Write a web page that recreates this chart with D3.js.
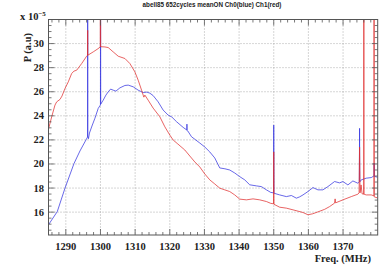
<!DOCTYPE html>
<html>
<head>
<meta charset="utf-8">
<script src="https://cdn.jsdelivr.net/npm/d3@7"></script>
<style>
  body { margin: 0; background: #fff; }
  svg { display: block; }
</style>
</head>
<body>
<div id="chart"></div>
<script>
// Ch0 (blue) spectrum, [freq MHz, power x1e-5]
var ch0 = [
  [1285.0, 14.95], [1287.54, 16.05], [1289.76, 17.99], [1292.35, 20.03], [1294.08, 21.08],
  [1295.95, 22.07], [1296.27, 22.24], [1296.3, 40], [1296.35, 22.32], [1296.53, 22.1],
  [1296.82, 22.57], [1297.54, 23.15], [1298.4, 23.8], [1299.35, 24.62], [1299.99, 24.9],
  [1300.02, 40], [1300.07, 24.97], [1300.79, 25.3], [1301.57, 25.72], [1302.23, 25.99],
  [1302.93, 26.22], [1303.67, 26.13], [1304.45, 26.05], [1305.6, 26.32], [1307.05, 26.52],
  [1308.0, 26.55], [1309.44, 26.41], [1310.88, 26.13], [1312.32, 25.93], [1313.39, 25.97],
  [1314.25, 25.88], [1315.2, 25.68], [1316.64, 25.16], [1318.08, 24.48], [1319.52, 24.06],
  [1320.59, 23.9], [1321.95, 23.51], [1323.85, 23.04], [1324.91, 22.82], [1324.95, 23.31],
  [1325.0, 22.78], [1325.2, 22.74], [1326.27, 22.26], [1327.51, 21.99], [1328.66, 21.74],
  [1330.1, 21.41], [1331.54, 21.0], [1332.98, 20.5], [1334.42, 19.67], [1335.9, 19.6],
  [1337.3, 19.5], [1338.74, 19.25], [1340.18, 18.95], [1341.63, 18.68], [1343.07, 18.27],
  [1345.0, 18.18], [1346.44, 18.12], [1347.88, 17.85], [1349.12, 17.64], [1349.93, 17.6],
  [1350.0, 23.23], [1350.07, 17.57], [1351.71, 17.43], [1353.64, 17.29], [1355.09, 17.38],
  [1356.53, 17.16], [1357.49, 17.27], [1358.44, 17.43], [1359.87, 17.71], [1361.31, 18.04],
  [1362.75, 17.85], [1364.19, 17.85], [1365.63, 18.12], [1367.56, 18.54], [1369.0, 18.43],
  [1369.96, 18.54], [1371.4, 18.26], [1372.84, 18.59], [1374.28, 18.4], [1374.7, 18.51],
  [1374.77, 22.96], [1374.83, 18.51], [1375.26, 18.68], [1376.7, 18.82], [1378.14, 18.87],
  [1378.95, 19.01], [1378.98, 20.08], [1379.04, 18.97], [1379.96, 18.9]
];

// Ch1 (red) spectrum
var ch1 = [
  [1285.0, 22.9], [1285.92, 23.92], [1286.87, 24.89], [1287.36, 25.16], [1288.31, 25.36],
  [1288.89, 25.64], [1289.76, 26.27], [1290.71, 26.82], [1291.69, 27.52], [1292.35, 27.71],
  [1293.13, 27.79], [1294.57, 28.34], [1296.0, 28.95], [1296.27, 29.03], [1296.3, 31.1],
  [1296.33, 29.03], [1297.91, 29.31], [1299.27, 29.57], [1299.93, 29.72], [1300.0, 40],
  [1300.05, 29.74], [1301.28, 29.72], [1302.23, 29.67], [1303.67, 29.31], [1305.12, 28.95],
  [1307.05, 28.76], [1308.49, 28.34], [1309.93, 27.65], [1310.88, 26.96], [1311.86, 26.13],
  [1312.32, 25.72], [1312.52, 25.55], [1312.81, 25.72], [1313.76, 25.3], [1315.2, 24.64],
  [1317.13, 23.92], [1318.57, 23.09], [1320.01, 22.4], [1320.97, 21.99], [1322.32, 21.66],
  [1324.34, 21.16], [1325.78, 20.66], [1327.22, 20.17], [1328.66, 19.75], [1330.1, 19.17],
  [1331.54, 18.68], [1332.98, 18.34], [1334.42, 17.99], [1335.86, 17.85], [1337.3, 17.71],
  [1338.74, 17.43], [1340.18, 17.08], [1342.12, 17.02], [1344.02, 17.1], [1345.95, 17.02],
  [1347.88, 16.88], [1349.12, 16.73], [1349.93, 16.69], [1350.0, 21.0], [1350.07, 16.65],
  [1351.71, 16.41], [1353.64, 16.33], [1355.55, 16.19], [1358.44, 15.97], [1359.87, 15.78],
  [1361.22, 15.86], [1362.75, 16.02], [1364.68, 16.23], [1366.12, 16.46], [1367.56, 16.75],
  [1367.71, 17.1], [1367.85, 16.77], [1369.96, 17.02], [1372.38, 17.29], [1374.28, 17.49],
  [1374.63, 17.6], [1374.77, 21.4], [1374.91, 17.6], [1375.2, 18.26], [1375.49, 17.52],
  [1375.98, 17.5], [1376.0, 40], [1376.02, 17.48], [1376.2, 17.47], [1376.69, 17.43],
  [1378.14, 17.43], [1378.92, 17.35], [1378.95, 40], [1379.0, 17.27], [1379.96, 17.18]
];

var xTicks = [1290, 1300, 1310, 1320, 1330, 1340, 1350, 1360, 1370];
var yTicks = [16, 18, 20, 22, 24, 26, 28, 30];

var title = "abell85 652cycles meanON Ch0(blue) Ch1(red)";

var w = 390, h = 268;
var pLeft = 48.5, pRight = 377.7, pTop = 19.5, pBottom = 235;

var x = d3.scaleLinear().domain([1285, 1380]).range([pLeft, pRight]);
var y = d3.scaleLinear().domain([14.1, 32]).range([pBottom, pTop]);

var svg = d3.select("#chart")
    .append("svg")
    .attr("width", w)
    .attr("height", h);

svg.append("rect")
    .attr("width", w)
    .attr("height", h)
    .attr("fill", "#fff");

svg.append("clipPath")
    .attr("id", "plotclip")
    .append("rect")
    .attr("x", pLeft)
    .attr("y", pTop)
    .attr("width", pRight - pLeft)
    .attr("height", pBottom - pTop);

// grid
svg.append("g")
    .selectAll("line")
    .data(xTicks)
    .enter()
    .append("line")
    .attr("x1", d => x(d)).attr("x2", d => x(d))
    .attr("y1", pTop).attr("y2", pBottom)
    .attr("stroke", "#999")
    .attr("stroke-width", 0.8)
    .attr("stroke-dasharray", "1,2");

svg.append("g")
    .selectAll("line")
    .data(yTicks)
    .enter()
    .append("line")
    .attr("y1", d => y(d)).attr("y2", d => y(d))
    .attr("x1", pLeft).attr("x2", pRight)
    .attr("stroke", "#999")
    .attr("stroke-width", 0.8)
    .attr("stroke-dasharray", "1,2");

// curves
var line = d3.line()
    .x(d => x(d[0]))
    .y(d => y(d[1]));

var plot = svg.append("g").attr("clip-path", "url(#plotclip)");

plot.append("path")
    .datum(ch0)
    .attr("fill", "none")
    .attr("stroke", "#3535e0")
    .attr("stroke-width", 0.75)
    .attr("d", line);

plot.append("path")
    .datum(ch1)
    .attr("fill", "none")
    .attr("stroke", "#e03030")
    .attr("stroke-width", 0.75)
    .attr("d", line);

// inward ticks on all four sides
var xMinor = d3.range(1286, 1380, 2).filter(d => d % 10 != 0);
var yMinor = d3.range(14.5, 32, 0.5).filter(d => d % 2 != 0);
var ticks = svg.append("g").attr("stroke", "#555").attr("stroke-width", 0.8);

xTicks.concat(xMinor).forEach(function (d) {
    var len = xTicks.indexOf(d) >= 0 ? 6 : 3;
    ticks.append("line").attr("x1", x(d)).attr("x2", x(d)).attr("y1", pBottom).attr("y2", pBottom - len);
    ticks.append("line").attr("x1", x(d)).attr("x2", x(d)).attr("y1", pTop).attr("y2", pTop + len);
});
yTicks.concat(yMinor).forEach(function (d) {
    var len = yTicks.indexOf(d) >= 0 ? 6 : 3;
    ticks.append("line").attr("y1", y(d)).attr("y2", y(d)).attr("x1", pLeft).attr("x2", pLeft + len);
    ticks.append("line").attr("y1", y(d)).attr("y2", y(d)).attr("x1", pRight).attr("x2", pRight - len);
});

svg.append("rect")
    .attr("x", pLeft)
    .attr("y", pTop)
    .attr("width", pRight - pLeft)
    .attr("height", pBottom - pTop)
    .attr("fill", "none")
    .attr("stroke", "#555")
    .attr("stroke-width", 1);

// tick labels
var labelFont = "'Liberation Serif', 'DejaVu Serif', serif";

svg.append("g")
    .selectAll("text")
    .data(xTicks)
    .enter()
    .append("text")
    .attr("x", d => x(d))
    .attr("y", 250)
    .attr("text-anchor", "middle")
    .attr("font-family", labelFont)
    .attr("font-weight", "bold")
    .attr("font-size", 10.5)
    .attr("fill", "#222")
    .text(d => d);

svg.append("g")
    .selectAll("text")
    .data(yTicks)
    .enter()
    .append("text")
    .attr("x", 44)
    .attr("y", d => y(d) + 3.5)
    .attr("text-anchor", "end")
    .attr("font-family", labelFont)
    .attr("font-weight", "bold")
    .attr("font-size", 10.5)
    .attr("fill", "#222")
    .text(d => d);

// axis titles
svg.append("text")
    .attr("x", 371)
    .attr("y", 262)
    .attr("text-anchor", "end")
    .attr("font-family", labelFont)
    .attr("font-weight", "bold")
    .attr("font-size", 10.5)
    .attr("fill", "#222")
    .text("Freq. (MHz)");

svg.append("text")
    .attr("transform", "translate(30.5,33) rotate(-90)")
    .attr("text-anchor", "end")
    .attr("font-family", labelFont)
    .attr("font-weight", "bold")
    .attr("font-size", 10.5)
    .attr("fill", "#222")
    .text("P (a.u)");

var expo = svg.append("text")
    .attr("x", 20)
    .attr("y", 20)
    .attr("font-family", labelFont)
    .attr("font-weight", "bold")
    .attr("font-size", 10.5)
    .attr("fill", "#222");
expo.append("tspan").text("x 10");
expo.append("tspan")
    .attr("dy", -4)
    .attr("font-size", 7)
    .text("\u22125");

// title
svg.append("text")
    .attr("x", 212)
    .attr("y", 7.3)
    .attr("text-anchor", "middle")
    .attr("font-family", "'Liberation Sans', Arial, sans-serif")
    .attr("font-weight", "bold")
    .attr("font-size", 6.3)
    .attr("fill", "#222")
    .text(title);
</script>
</body>
</html>
